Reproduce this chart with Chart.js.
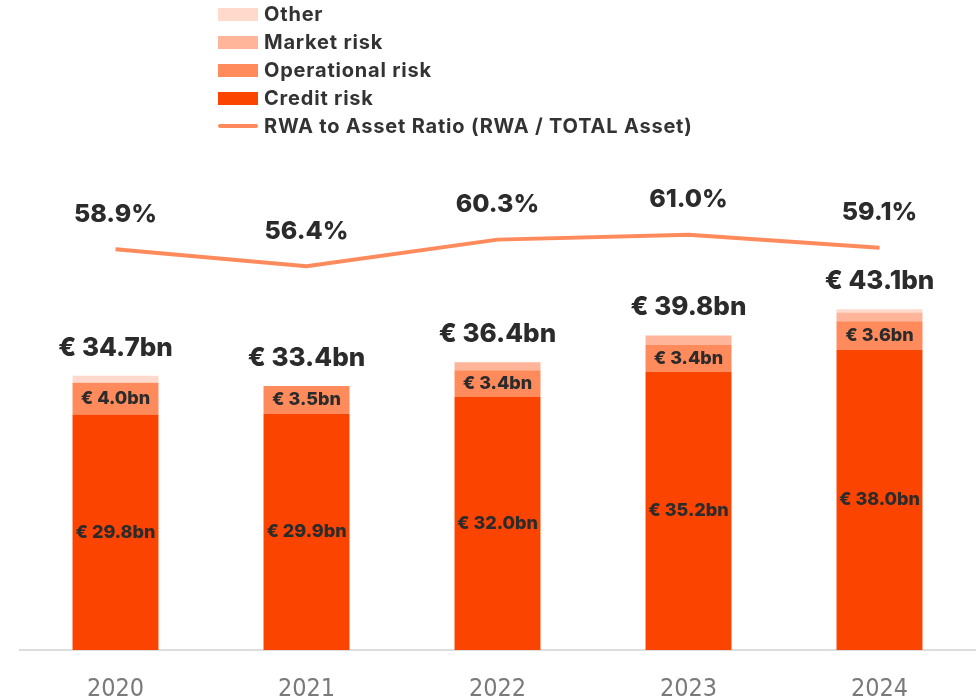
<!DOCTYPE html>
<html>
<head>
<meta charset="utf-8">
<script src="https://cdn.jsdelivr.net/npm/chart.js@4/dist/chart.umd.min.js"></script>
<style>
  body { margin: 0; background: #fff; }
  #wrap { position: relative; width: 979px; height: 699px; }
  canvas { display: block; }
  #legend { position: absolute; left: 218px; top: 0px; font-family: Inter, sans-serif; font-weight: 700; font-size: 20px; letter-spacing: 0.8px; color: #333; }
  #legend div { height: 28px; display: flex; align-items: center; }
  #legend span.box { display: inline-block; width: 40px; height: 13px; margin-right: 6px; }
  #legend span.ln { display: inline-block; width: 40px; height: 4px; margin-right: 6px; border-radius: 2px; }
</style>
</head>
<body>
<div id="wrap">
  <canvas id="graph" width="979" height="699"></canvas>
  <div id="legend"></div>
</div>
<script>
var years = ['2020', '2021', '2022', '2023', '2024'];
var creditRisk = [29.8, 29.9, 32.0, 35.2, 38.0];
var operationalRisk = [4.0, 3.5, 3.4, 3.4, 3.6];
var marketRisk = [0, 0, 1.0, 1.2, 1.1];
var otherRisk = [0.9, 0, 0, 0, 0.4];
var totals = [34.7, 33.4, 36.4, 39.8, 43.1];
var rwaRatio = [58.9, 56.4, 60.3, 61.0, 59.1];

const labelPlugin = {
    id: 'valueLabels',
    afterDatasetsDraw(chart) {
        const ctx = chart.ctx;
        ctx.save();
        ctx.textAlign = 'center';
        ctx.textBaseline = 'middle';
        ctx.fillStyle = '#2b2b2b';
        var credit = chart.getDatasetMeta(1).data;
        var oper = chart.getDatasetMeta(2).data;
        var other = chart.getDatasetMeta(4).data;
        var line = chart.getDatasetMeta(0).data;
        for (var i = 0; i < years.length; i++) {
            ctx.font = '800 18px Inter';
            ctx.fillText('€ ' + creditRisk[i].toFixed(1) + 'bn', credit[i].x, (credit[i].y + credit[i].base) / 2);
            ctx.fillText('€ ' + operationalRisk[i].toFixed(1) + 'bn', oper[i].x, (oper[i].y + oper[i].base) / 2);
            ctx.font = '800 26px Inter';
            ctx.fillText('€ ' + totals[i].toFixed(1) + 'bn', other[i].x, other[i].y - 28);
            ctx.font = '800 25px Inter';
            ctx.fillText(rwaRatio[i].toFixed(1) + '%', line[i].x, line[i].y - 35);
        }
        ctx.restore();
    }
};

var chartdata = {
    labels: years,
    datasets: [
        {
            type: 'line',
            label: 'RWA to Asset Ratio (RWA / TOTAL Asset)',
            data: rwaRatio,
            borderColor: '#FF8A5C',
            backgroundColor: '#FF8A5C',
            borderWidth: 4,
            pointRadius: 0,
            yAxisID: 'y2',
            order: 0
        },
        { label: 'Credit risk', data: creditRisk, backgroundColor: '#FA4400', stack: 's', order: 1 },
        { label: 'Operational risk', data: operationalRisk, backgroundColor: '#FF8A5C', stack: 's', order: 1 },
        { label: 'Market risk', data: marketRisk, backgroundColor: '#FFB599', stack: 's', order: 1 },
        { label: 'Other', data: otherRisk, backgroundColor: '#FFD9CC', stack: 's', order: 1 }
    ]
};

var barGraph = new Chart(document.getElementById('graph'), {
    type: 'bar',
    data: chartdata,
    options: {
        responsive: false,
        animation: false,
        barPercentage: 0.45,
        categoryPercentage: 1.0,
        layout: { padding: { top: 160, left: 20, right: 4, bottom: -29 } },
        plugins: { legend: { display: false }, tooltip: { enabled: false } },
        scales: {
            x: {
                stacked: true,
                grid: { display: false, drawTicks: false },
                border: { display: true, color: '#dddddd', width: 2 },
                ticks: { color: '#7a7a7a', font: { size: 25, family: 'DejaVu Sans Condensed' }, padding: 24 }
            },
            y: { stacked: true, display: false, min: 0, max: 62 },
            y2: { display: false, min: 0, max: 72 }
        }
    },
    plugins: [labelPlugin]
});

// legend: bar series top-down, then the line
var legendEl = document.getElementById('legend');
[4, 3, 2, 1, 0].forEach(function (i) {
    var ds = chartdata.datasets[i];
    var row = document.createElement('div');
    var mark = document.createElement('span');
    mark.className = ds.type === 'line' ? 'ln' : 'box';
    mark.style.background = ds.type === 'line' ? ds.borderColor : ds.backgroundColor;
    row.appendChild(mark);
    row.appendChild(document.createTextNode(ds.label));
    legendEl.appendChild(row);
});
</script>
</body>
</html>
